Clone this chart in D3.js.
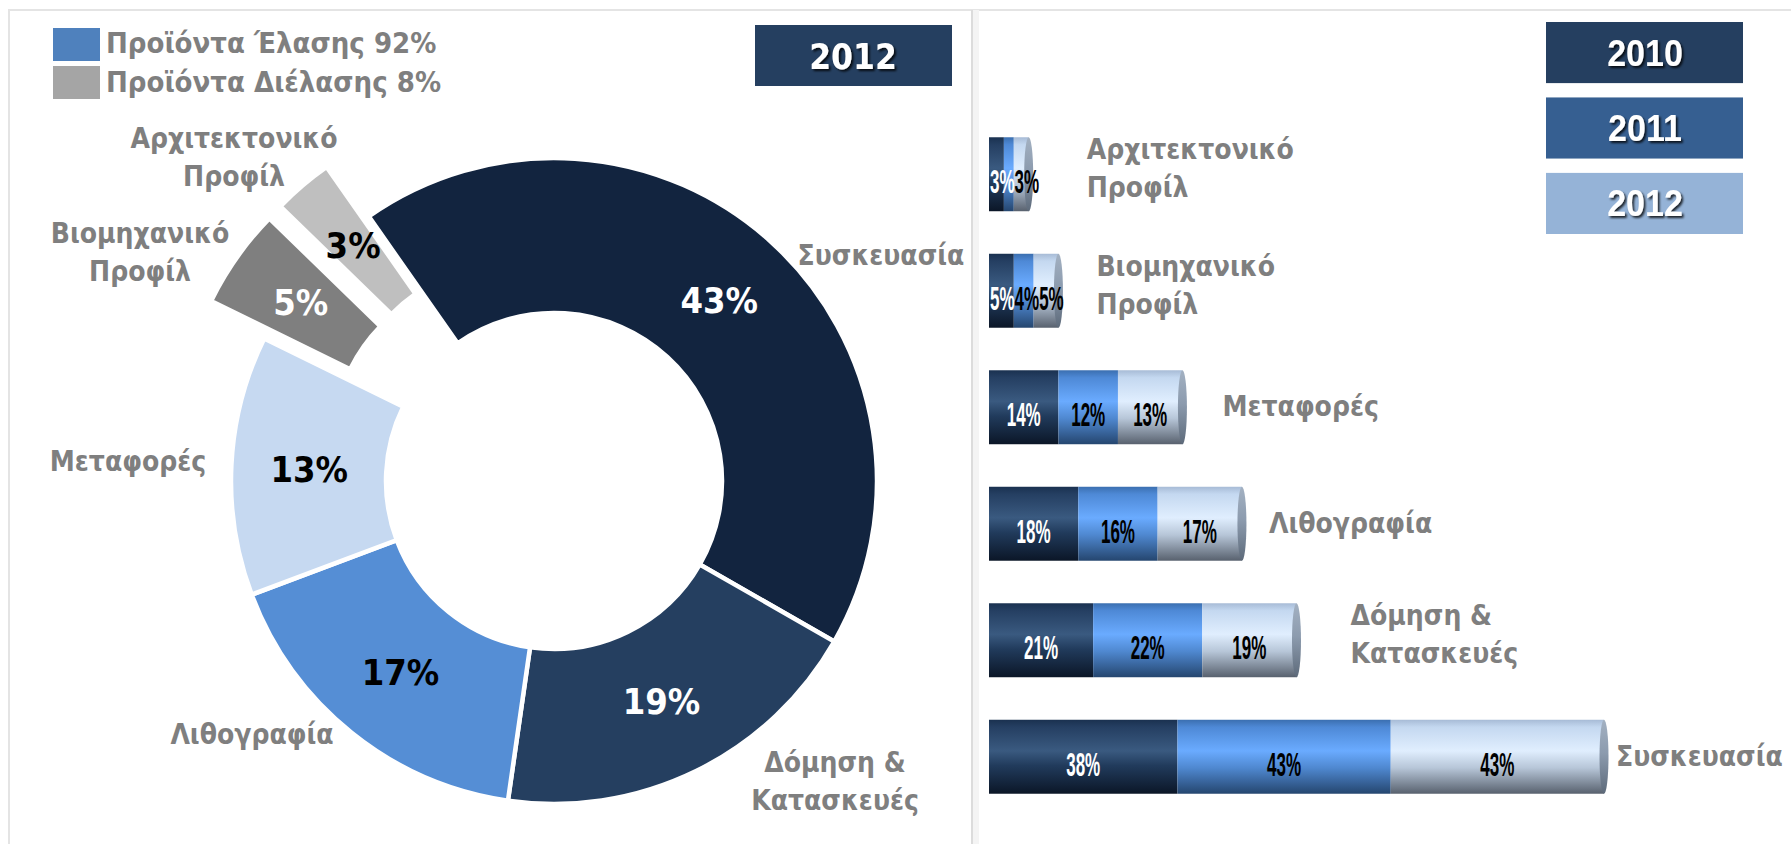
<!DOCTYPE html>
<html>
<head>
<meta charset="utf-8">
<script src="https://cdn.jsdelivr.net/npm/d3@7"></script>
<style>
  body { margin: 0; background: #fff; }
  svg { display: block; }
</style>
</head>
<body>
<script>
// legend (left panel)
const legendLabels = ["Προϊόντα Έλασης 92%", "Προϊόντα Διέλασης 8%"];
const legendColors = ["#4f81bd", "#a5a5a5"];

// donut, 2012 shares
const donutYear = "2012";
const donutCategories = ["Συσκευασία", "Δόμηση & Κατασκευές", "Λιθογραφία", "Μεταφορές", "Βιομηχανικό Προφίλ", "Αρχιτεκτονικό Προφίλ"];
const donutValues = [43, 19, 17, 13, 5, 3];

// stacked cylinders, 2010-2012
const barCategories = ["Αρχιτεκτονικό Προφίλ", "Βιομηχανικό Προφίλ", "Μεταφορές", "Λιθογραφία", "Δόμηση & Κατασκευές", "Συσκευασία"];
const years = ["2010", "2011", "2012"];
const values2010 = [3, 5, 14, 18, 21, 38];
const values2011 = [2, 4, 12, 16, 22, 43];
const values2012 = [3, 5, 13, 17, 19, 43];

const W = 1791, H = 844;
const labelFont = "'DejaVu Sans Condensed', 'DejaVu Sans', sans-serif";
const grey = "#7f7f7f";

function lines(name) {
  return name.includes("&") ? name.split(/(?<=&) /) : name.split(" ");
}

const svg = d3.select("body").append("svg")
  .attr("width", W)
  .attr("height", H);

const defs = svg.append("defs");

const shadow = defs.append("filter").attr("id", "txtShadow")
  .attr("x", "-20%").attr("y", "-20%").attr("width", "140%").attr("height", "160%");
shadow.append("feDropShadow")
  .attr("dx", 2).attr("dy", 2).attr("stdDeviation", 1.2)
  .attr("flood-color", "#000").attr("flood-opacity", 0.8);

// frame
svg.append("line").attr("x1", 8).attr("x2", W).attr("y1", 10).attr("y2", 10)
  .attr("stroke", "#e4e4e4").attr("stroke-width", 2);
svg.append("line").attr("x1", 9).attr("x2", 9).attr("y1", 10).attr("y2", H)
  .attr("stroke", "#e4e4e4").attr("stroke-width", 2);
svg.append("rect").attr("x", 973).attr("y", 10).attr("width", 6).attr("height", H)
  .attr("fill", "#f4f4f4");
svg.append("line").attr("x1", 972).attr("x2", 972).attr("y1", 10).attr("y2", H)
  .attr("stroke", "#dcdcdc").attr("stroke-width", 2);

// ---------- left panel ----------
const legend = svg.append("g");
legendLabels.forEach(function (t, i) {
  legend.append("rect")
    .attr("x", 53).attr("y", 28 + i * 38)
    .attr("width", 47).attr("height", 33)
    .attr("fill", legendColors[i]);
  legend.append("text")
    .attr("x", 106).attr("y", 53 + i * 39)
    .attr("font-family", labelFont).attr("font-stretch", "condensed")
    .attr("font-weight", "bold")
    .attr("font-size", 29).attr("fill", grey)
    .text(t);
});

svg.append("rect").attr("x", 755).attr("y", 25).attr("width", 197).attr("height", 61)
  .attr("fill", "#253f60");
svg.append("text")
  .attr("x", 853).attr("y", 69)
  .attr("text-anchor", "middle")
  .attr("font-family", labelFont).attr("font-stretch", "condensed")
  .attr("font-weight", "bold").attr("font-size", 35)
  .attr("fill", "#fff").attr("filter", "url(#txtShadow)")
  .text(donutYear);

const donutColors = ["#12243f", "#253f60", "#558ed5", "#c6d9f1", "#7f7f7f", "#bfbfbf"];
const donutTextColors = ["#fff", "#fff", "#000", "#000", "#fff", "#000"];
const exploded = ["Βιομηχανικό Προφίλ", "Αρχιτεκτονικό Προφίλ"];
// label placement relative to the donut centre (Excel-style manual layout)
const donutLabelOffsets = [[327, -216], [281, 291], [-302, 263], [-426, -10], [-414, -238], [-320, -333]];

const donut = svg.append("g").attr("transform", "translate(554,481)");

const pie = d3.pie().sort(null)
  .startAngle(-35 * Math.PI / 180)
  .endAngle(325 * Math.PI / 180);
const slices = pie(donutValues);
const arc = d3.arc().innerRadius(168).outerRadius(323);
const midArc = d3.arc().innerRadius(245).outerRadius(245);

function pull(d, i) {
  if (!exploded.includes(donutCategories[i])) return [0, 0];
  const a = (d.startAngle + d.endAngle) / 2;
  return [65 * Math.sin(a), -65 * Math.cos(a)];
}

donut.selectAll("path.slice")
  .data(slices)
  .join("path")
  .attr("class", "slice")
  .attr("d", arc)
  .attr("transform", (d, i) => `translate(${pull(d, i)})`)
  .attr("fill", (d, i) => donutColors[i])
  .attr("stroke", "#fff")
  .attr("stroke-width", 4.5)
  .attr("stroke-linejoin", "miter");

donut.selectAll("text.pct")
  .data(slices)
  .join("text")
  .attr("class", "pct")
  .attr("x", (d, i) => midArc.centroid(d)[0] + pull(d, i)[0])
  .attr("y", (d, i) => midArc.centroid(d)[1] + pull(d, i)[1] + 13)
  .attr("text-anchor", "middle")
  .attr("font-family", labelFont).attr("font-stretch", "condensed")
  .attr("font-weight", "bold").attr("font-size", 36)
  .attr("fill", (d, i) => donutTextColors[i])
  .text(d => d.data + "%");

donutCategories.forEach(function (name, i) {
  const t = donut.append("text")
    .attr("text-anchor", "middle")
    .attr("font-family", labelFont).attr("font-stretch", "condensed")
    .attr("font-weight", "bold").attr("font-size", 28)
    .attr("fill", grey);
  lines(name).forEach(function (s, k) {
    t.append("tspan")
      .attr("x", donutLabelOffsets[i][0])
      .attr("y", donutLabelOffsets[i][1] + k * 38)
      .text(s);
  });
});

// ---------- right panel ----------
const yearColors = ["#253f60", "#365f91", "#95b3d7"];
const yl = d3.scaleBand().domain(years).range([22, 234]).paddingInner(0.19).paddingOuter(0);

years.forEach(function (yr, i) {
  svg.append("rect")
    .attr("x", 1546).attr("y", yl(yr))
    .attr("width", 197).attr("height", yl.bandwidth())
    .attr("fill", yearColors[i]);
  svg.append("text")
    .attr("transform", `translate(1645,${yl(yr) + yl.bandwidth() / 2 + 13}) scale(0.92,1)`)
    .attr("text-anchor", "middle")
    .attr("font-family", "'Liberation Sans', Arial, sans-serif")
    .attr("font-weight", "bold").attr("font-size", 37)
    .attr("fill", "#fff").attr("filter", "url(#txtShadow)")
    .text(yr);
});

const gradStops = {
  "2010": [[0, "#1a3150"], [0.1, "#253f62"], [0.42, "#3a5a80"], [0.62, "#213b5c"], [1, "#0b1627"]],
  "2011": [[0, "#3b6fb0"], [0.1, "#4e89d6"], [0.42, "#6aabff"], [0.65, "#4f88d0"], [1, "#25466f"]],
  "2012": [[0, "#a7bbd6"], [0.1, "#c4d8f0"], [0.42, "#e0eefe"], [0.65, "#b7c6d8"], [1, "#58616e"]],
  "cap": [[0, "#a3b1c2"], [0.45, "#8c9bae"], [1, "#5d6a7a"]]
};
Object.keys(gradStops).forEach(function (k) {
  const g = defs.append("linearGradient").attr("id", "g" + k)
    .attr("x1", 0).attr("x2", 0).attr("y1", 0).attr("y2", 1);
  gradStops[k].forEach(s => g.append("stop").attr("offset", s[0]).attr("stop-color", s[1]));
});

const rows = barCategories.map((c, i) => ({
  cat: c, "2010": values2010[i], "2011": values2011[i], "2012": values2012[i]
}));
const stacked = d3.stack().keys(years)(rows);
const totals = rows.map(r => r["2010"] + r["2011"] + r["2012"]);

const x = d3.scaleLinear().domain([0, d3.max(totals)]).range([989, 1604]);
const y = d3.scaleBand().domain(barCategories).range([116, 815])
  .paddingInner(0.365).paddingOuter(0.1825);

const segLabelColors = ["#fff", "#000", "#000"];

const bars = svg.append("g");
stacked.forEach(function (layer, li) {
  bars.selectAll("rect.s" + li)
    .data(layer)
    .join("rect")
    .attr("class", "s" + li)
    .attr("x", d => x(d[0]))
    .attr("y", d => y(d.data.cat))
    .attr("width", d => x(d[1]) - x(d[0]))
    .attr("height", y.bandwidth())
    .attr("fill", "url(#g" + layer.key + ")");
});

bars.selectAll("ellipse.cap")
  .data(rows)
  .join("ellipse")
  .attr("class", "cap")
  .attr("cx", (d, i) => x(totals[i]))
  .attr("cy", d => y(d.cat) + y.bandwidth() / 2)
  .attr("rx", 4.5)
  .attr("ry", y.bandwidth() / 2)
  .attr("fill", "url(#gcap)");

// segment labels: centred, but pushed right when a narrow segment would make them collide
const sx = 0.5;
barCategories.forEach(function (cat, ci) {
  let prevEnd = x(0) + 1;
  stacked.forEach(function (layer, li) {
    const d = layer[ci];
    const w = x(d[1]) - x(d[0]);
    if (w <= 12) return;
    const t = bars.append("text")
      .attr("font-family", "'Liberation Sans', Arial, sans-serif")
      .attr("font-weight", "bold")
      .attr("font-size", 34)
      .attr("fill", segLabelColors[li])
      .text((d[1] - d[0]) + "%");
    const tw = t.node().getComputedTextLength() * sx;
    let left = (x(d[0]) + x(d[1])) / 2 - tw / 2;
    if (left < prevEnd) left = prevEnd;
    prevEnd = left + tw;
    t.attr("transform", `translate(${left},${y(cat) + y.bandwidth() / 2 + 19}) scale(${sx},1)`);
  });
});

// category labels after each cylinder (Excel-style manual gaps)
const barLabelGap = [58, 38, 40, 27, 54, 12];
barCategories.forEach(function (name, i) {
  const ls = lines(name);
  const cy = y(name) + y.bandwidth() / 2;
  const t = svg.append("text")
    .attr("font-family", labelFont).attr("font-stretch", "condensed")
    .attr("font-weight", "bold").attr("font-size", 28)
    .attr("fill", grey);
  ls.forEach(function (s, k) {
    t.append("tspan")
      .attr("x", x(totals[i]) + barLabelGap[i])
      .attr("y", ls.length > 1 ? cy - 15 + k * 38 : cy + 9)
      .text(s);
  });
});
</script>
</body>
</html>
